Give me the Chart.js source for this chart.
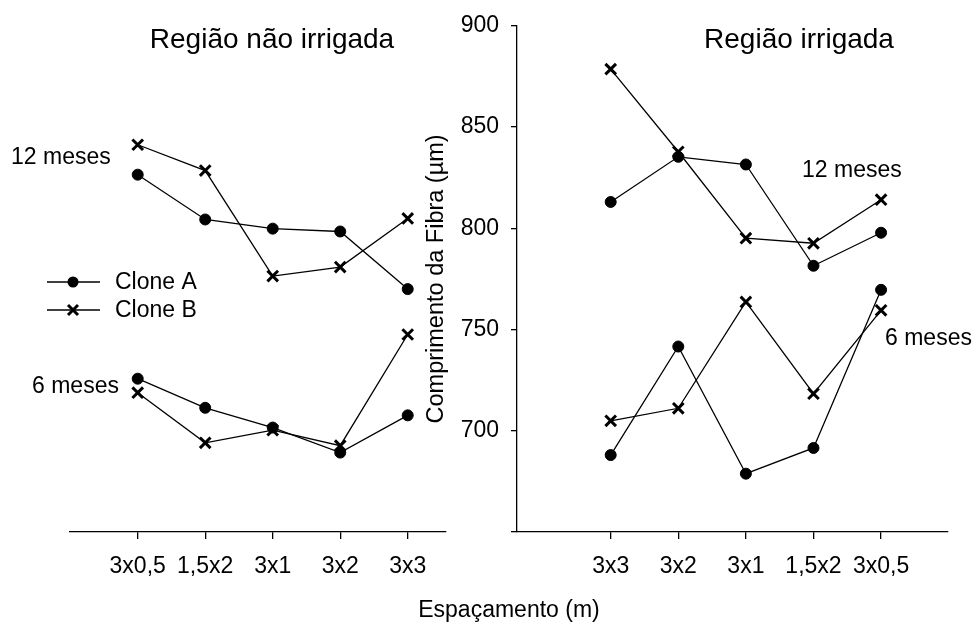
<!DOCTYPE html>
<html>
<head>
<meta charset="utf-8">
<script src="https://cdn.jsdelivr.net/npm/chart.js@4/dist/chart.umd.min.js"></script>
<style>
  body { margin: 0; background: #fff; }
  #wrap { position: relative; width: 976px; height: 623px; overflow: hidden; font-family: "Liberation Sans", Arial, sans-serif; color: #000; }
  canvas { position: absolute; top: 0; }
  .txt { position: absolute; font-size: 23px; line-height: 1; white-space: nowrap; transform: translateY(-50%); }
  .ttl { position: absolute; font-size: 28px; line-height: 1; white-space: nowrap; transform: translate(-50%, -50%); }
</style>
</head>
<body>
<div id="wrap">
  <canvas id="left" width="500" height="623" style="left:0;width:500px;height:623px"></canvas>
  <canvas id="right" width="576" height="623" style="left:400px;width:576px;height:623px"></canvas>
  <div class="ttl" style="left:272px;top:39px">Região não irrigada</div>
  <div class="ttl" style="left:799px;top:39px">Região irrigada</div>
  <div class="txt" style="left:11px;top:156px">12 meses</div>
  <div class="txt" style="left:32px;top:385px">6 meses</div>
  <div class="txt" style="left:802px;top:169px">12 meses</div>
  <div class="txt" style="left:885px;top:337px">6 meses</div>
  <div class="ttl" style="left:509px;top:609px;font-size:23px">Espaçamento (m)</div>
</div>
<script>
// espaçamentos
let labelsLeft = ['3x0,5', '1,5x2', '3x1', '3x2', '3x3'];
let labelsRight = ['3x3', '3x2', '3x1', '1,5x2', '3x0,5'];

// comprimento da fibra (µm), região não irrigada
let a12Left = [825.5, 803.5, 799, 797.6, 769.3];
let b12Left = [840.2, 827.5, 775.7, 780.1, 804];
let a6Left = [725.3, 711, 701.3, 689, 707.3];
let b6Left = [718.4, 693.8, 700, 692.4, 747];

// região irrigada
let a12Right = [813, 835.3, 831.5, 781.5, 797.8];
let b12Right = [878.6, 837.8, 795.1, 792.6, 814.1];
let a6Right = [688, 741.6, 678.8, 691.5, 769.6];
let b6Right = [704.9, 711.1, 763.6, 718.3, 759.5];

let yTicks = [650, 700, 750, 800, 850, 900];

let font = { family: "'Liberation Sans', Arial, sans-serif", size: 23 };

function pts(arr) {
  return arr.map((v, i) => ({ x: i, y: v }));
}

function ds(label, arr, clone) {
  return {
    label: label,
    data: pts(arr),
    borderColor: '#000',
    backgroundColor: '#000',
    borderWidth: 1.3,
    pointStyle: clone == 'A' ? 'circle' : 'crossRot',
    pointRadius: clone == 'A' ? 5.5 : 7.5,
    pointBorderWidth: clone == 'A' ? 1 : 3,
    tension: 0
  };
}

function xScale(labels, min, max) {
  return {
    type: 'linear',
    min: min,
    max: max,
    afterBuildTicks: (ax) => { ax.ticks = labels.map((_, i) => ({ value: i })); },
    afterFit: (s) => { s.height = 91; },
    ticks: { color: '#000', font: font, padding: 14, maxRotation: 0, autoSkip: false,
      callback: (v) => labels[v] },
    grid: { drawOnChartArea: false, drawTicks: true, tickLength: 7, color: '#000', lineWidth: 1.3 },
    border: { display: true, color: '#000', width: 1.3 }
  };
}

// legenda desenhada à mão no painel esquerdo
const legendPlugin = {
  id: 'handLegend',
  afterDraw(chart) {
    let ctx = chart.ctx;
    ctx.save();
    ctx.strokeStyle = '#000';
    ctx.fillStyle = '#000';
    [['Clone A', 282, 'A'], ['Clone B', 310, 'B']].forEach(([txt, y, c]) => {
      ctx.lineWidth = 1.3;
      ctx.beginPath();
      ctx.moveTo(47, y);
      ctx.lineTo(100, y);
      ctx.stroke();
      if (c == 'A') {
        ctx.beginPath();
        ctx.arc(73, y, 5.5, 0, Math.PI * 2);
        ctx.fill();
      } else {
        ctx.lineWidth = 3;
        ctx.beginPath();
        ctx.moveTo(68, y - 5); ctx.lineTo(78, y + 5);
        ctx.moveTo(68, y + 5); ctx.lineTo(78, y - 5);
        ctx.stroke();
      }
      ctx.font = "23px 'Liberation Sans', Arial, sans-serif";
      ctx.textBaseline = 'middle';
      ctx.fillText(txt, 115, y + 1);
    });
    ctx.restore();
  }
};

let commonOpts = {
  responsive: false,
  animation: false,
  plugins: { legend: { display: false }, tooltip: { enabled: false } }
};

new Chart(document.getElementById('left'), {
  type: 'line',
  data: { datasets: [
    ds('Clone A 12', a12Left, 'A'), ds('Clone B 12', b12Left, 'B'),
    ds('Clone A 6', a6Left, 'A'), ds('Clone B 6', b6Left, 'B')
  ] },
  options: Object.assign({}, commonOpts, {
    layout: { padding: { left: 70, right: 54, top: 23, bottom: 0 } },
    scales: {
      x: xScale(labelsLeft, -1.003, 4.567),
      y: { display: false, min: 650, max: 900 }
    }
  }),
  plugins: [legendPlugin]
});

new Chart(document.getElementById('right'), {
  type: 'line',
  data: { datasets: [
    ds('Clone A 12', a12Right, 'A'), ds('Clone B 12', b12Right, 'B'),
    ds('Clone A 6', a6Right, 'A'), ds('Clone B 6', b6Right, 'B')
  ] },
  options: Object.assign({}, commonOpts, {
    layout: { padding: { left: 22, right: 28, top: 23, bottom: 0 } },
    scales: {
      x: xScale(labelsRight, -1.386, 4.99),
      y: {
        min: 650, max: 900,
        afterBuildTicks: (ax) => { ax.ticks = yTicks.map(v => ({ value: v })); },
        afterFit: (s) => { s.width = 95; },
        ticks: { color: '#000', font: font, padding: 12, callback: (v) => v == 650 ? '' : v },
        grid: { drawOnChartArea: false, drawTicks: true, tickLength: 6, color: '#000', lineWidth: 1.3 },
        border: { display: true, color: '#000', width: 1.3 },
        title: { display: true, text: 'Comprimento da Fibra (µm)', color: '#000',
          font: { family: font.family, size: 23.5 }, padding: 0 }
      }
    }
  })
});
</script>
</body>
</html>
